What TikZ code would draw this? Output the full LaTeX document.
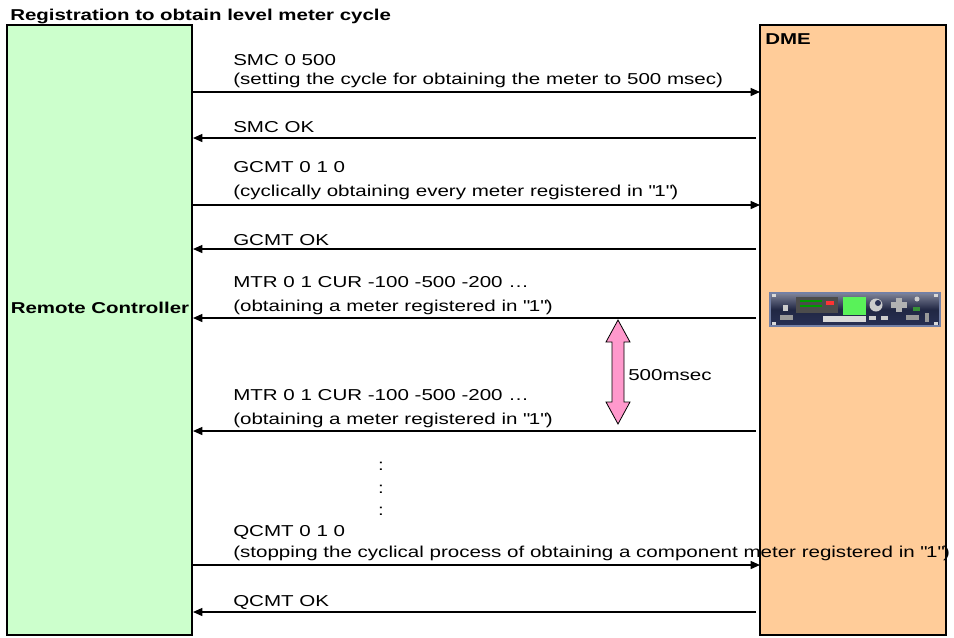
\documentclass[tikz,border=0pt]{standalone}
\usepackage{fontspec}
\setmainfont[FakeStretch=1.3]{Liberation Sans}
\usetikzlibrary{arrows.meta}
\definecolor{rcgreen}{rgb}{0.8,1.0,0.8}
\definecolor{dmeorange}{rgb}{1.0,0.8,0.6}
\definecolor{cyclepink}{rgb}{1.0,0.6,0.8}
\definecolor{rackblue}{rgb}{0.16,0.19,0.33}
\definecolor{rackedge}{rgb}{0.45,0.5,0.65}
\definecolor{lcdgreen}{rgb}{0.35,0.95,0.35}

\begin{document}
\begin{tikzpicture}[x=0.75pt,y=-0.75pt,font=\fontsize{11.85}{14}\selectfont,inner sep=0pt]
\useasboundingbox (0,0) rectangle (954,637);
\node (title) at (10,20) [anchor=base west,font=\bfseries\fontsize{11.8}{14}\selectfont] {Registration to obtain level meter cycle};
\node (rc) at (99.5,330) [draw,line width=1.6pt,fill=rcgreen,minimum width=138.75pt,minimum height=457.5pt] {};
\node (dme) at (853,330) [draw,line width=1.6pt,fill=dmeorange,minimum width=139.5pt,minimum height=457.5pt] {};
\node (rclabel) at (100,313) [anchor=base,font=\bfseries\fontsize{11.8}{14}\selectfont] {Remote Controller};
\node (dmelabel) at (765,44) [anchor=base west,font=\bfseries\fontsize{11.8}{14}\selectfont] {DME};
\node (smc) at (233,65) [anchor=base west] {SMC 0 500};
\node (smcnote) at (233,84) [anchor=base west] {(setting the cycle for obtaining the meter to 500 msec)};
\node (smcok) at (233,132) [anchor=base west] {SMC OK};
\node (gcmt) at (233,172) [anchor=base west] {GCMT 0 1 0};
\node (gcmtnote) at (233,196) [anchor=base west] {(cyclically obtaining every meter registered in \textquotedbl1\textquotedbl)};
\node (gcmtok) at (233,245) [anchor=base west] {GCMT OK};
\node (mtra) at (233,287) [anchor=base west] {MTR 0 1 CUR -100 -500 -200 …};
\node (mtranote) at (233,311) [anchor=base west] {(obtaining a meter registered in \textquotedbl1\textquotedbl)};
\node (mtrb) at (233,400) [anchor=base west] {MTR 0 1 CUR -100 -500 -200 …};
\node (mtrbnote) at (233,424) [anchor=base west] {(obtaining a meter registered in \textquotedbl1\textquotedbl)};
\node (dotsa) at (381,466) {:};
\node (dotsb) at (381,489) {:};
\node (dotsc) at (381,511) {:};
\node (qcmt) at (233,536) [anchor=base west] {QCMT 0 1 0};
\node (qcmtnote) at (233,557) [anchor=base west] {(stopping the cyclical process of obtaining a component meter registered in \textquotedbl1\textquotedbl)};
\node (qcmtok) at (233,606) [anchor=base west] {QCMT OK};
\node (cycle) at (628,375) [anchor=west] {500msec};
\coordinate (smcL) at (193,92);
\coordinate (smcR) at (760,92);
\coordinate (smcokL) at (193,138);
\coordinate (smcokR) at (756,138);
\coordinate (gcmtL) at (193,205);
\coordinate (gcmtR) at (760,205);
\coordinate (gcmtokL) at (193,249);
\coordinate (gcmtokR) at (756,249);
\coordinate (mtraL) at (193,318);
\coordinate (mtraR) at (756,318);
\coordinate (mtrbL) at (193,431);
\coordinate (mtrbR) at (756,431);
\coordinate (qcmtL) at (193,565);
\coordinate (qcmtR) at (760,565);
\coordinate (qcmtokL) at (193,612);
\coordinate (qcmtokR) at (756,612);
\tikzset{msg/.style={-{Triangle[length=7pt,width=6pt]},line width=1pt}}
\draw[msg] (smcL) -- (smcR);
\draw[msg] (smcokR) -- (smcokL);
\draw[msg] (gcmtL) -- (gcmtR);
\draw[msg] (gcmtokR) -- (gcmtokL);
\draw[msg] (mtraR) -- (mtraL);
\draw[msg] (mtrbR) -- (mtrbL);
\draw[msg] (qcmtL) -- (qcmtR);
\draw[msg] (qcmtokR) -- (qcmtokL);
\draw[fill=cyclepink,line width=0.6pt] (618,320) -- (630,342) -- (624,342) -- (624,402) -- (630,402) -- (618,424) -- (606,402) -- (612,402) -- (612,342) -- (606,342) -- cycle;
\shade[top color=rackblue!60!white,bottom color=rackblue,middle color=rackblue!80!black,draw=rackedge,line width=0.8pt] (770,293) rectangle (940,326);
\draw[rackedge,line width=0.8pt] (770,293) rectangle (940,326);
\fill[black!70] (796,297) rectangle (838,313);
\fill[white!85!black] (823,316) rectangle (866,322);
\fill[lcdgreen] (843,297) rectangle (866,315);
\fill[red!80] (826,301) rectangle (834,305);
\fill[green!60!black] (800,300) rectangle (822,302);
\fill[green!60!black] (800,305) rectangle (822,307);
\fill[white!80!black] (876,305) circle (6.5);
\fill[rackblue] (878,303) circle (3);
\fill[white!70!black] (891,302) rectangle (907,308);
\fill[white!70!black] (896,298) rectangle (902,312);
\fill[white!85!black] (772,294) rectangle (776,297);
\fill[white!85!black] (934,294) rectangle (938,297);
\fill[white!85!black] (772,322) rectangle (776,325);
\fill[white!85!black] (934,322) rectangle (938,325);
\fill[white!80!black] (783,305) rectangle (788,311);
\fill[white!80!black] (869,316) rectangle (876,320);
\fill[white!80!black] (881,316) rectangle (888,320);
\fill[white!60!black] (780,315) rectangle (793,320);
\fill[white!60!black] (906,315) rectangle (919,320);
\fill[white!80!black] (917,299) circle (2.5);
\fill[lcdgreen!60!black] (913,307) rectangle (920,311);
\fill[white!60!black] (925,313) rectangle (929,322);
\end{tikzpicture}
\end{document}
